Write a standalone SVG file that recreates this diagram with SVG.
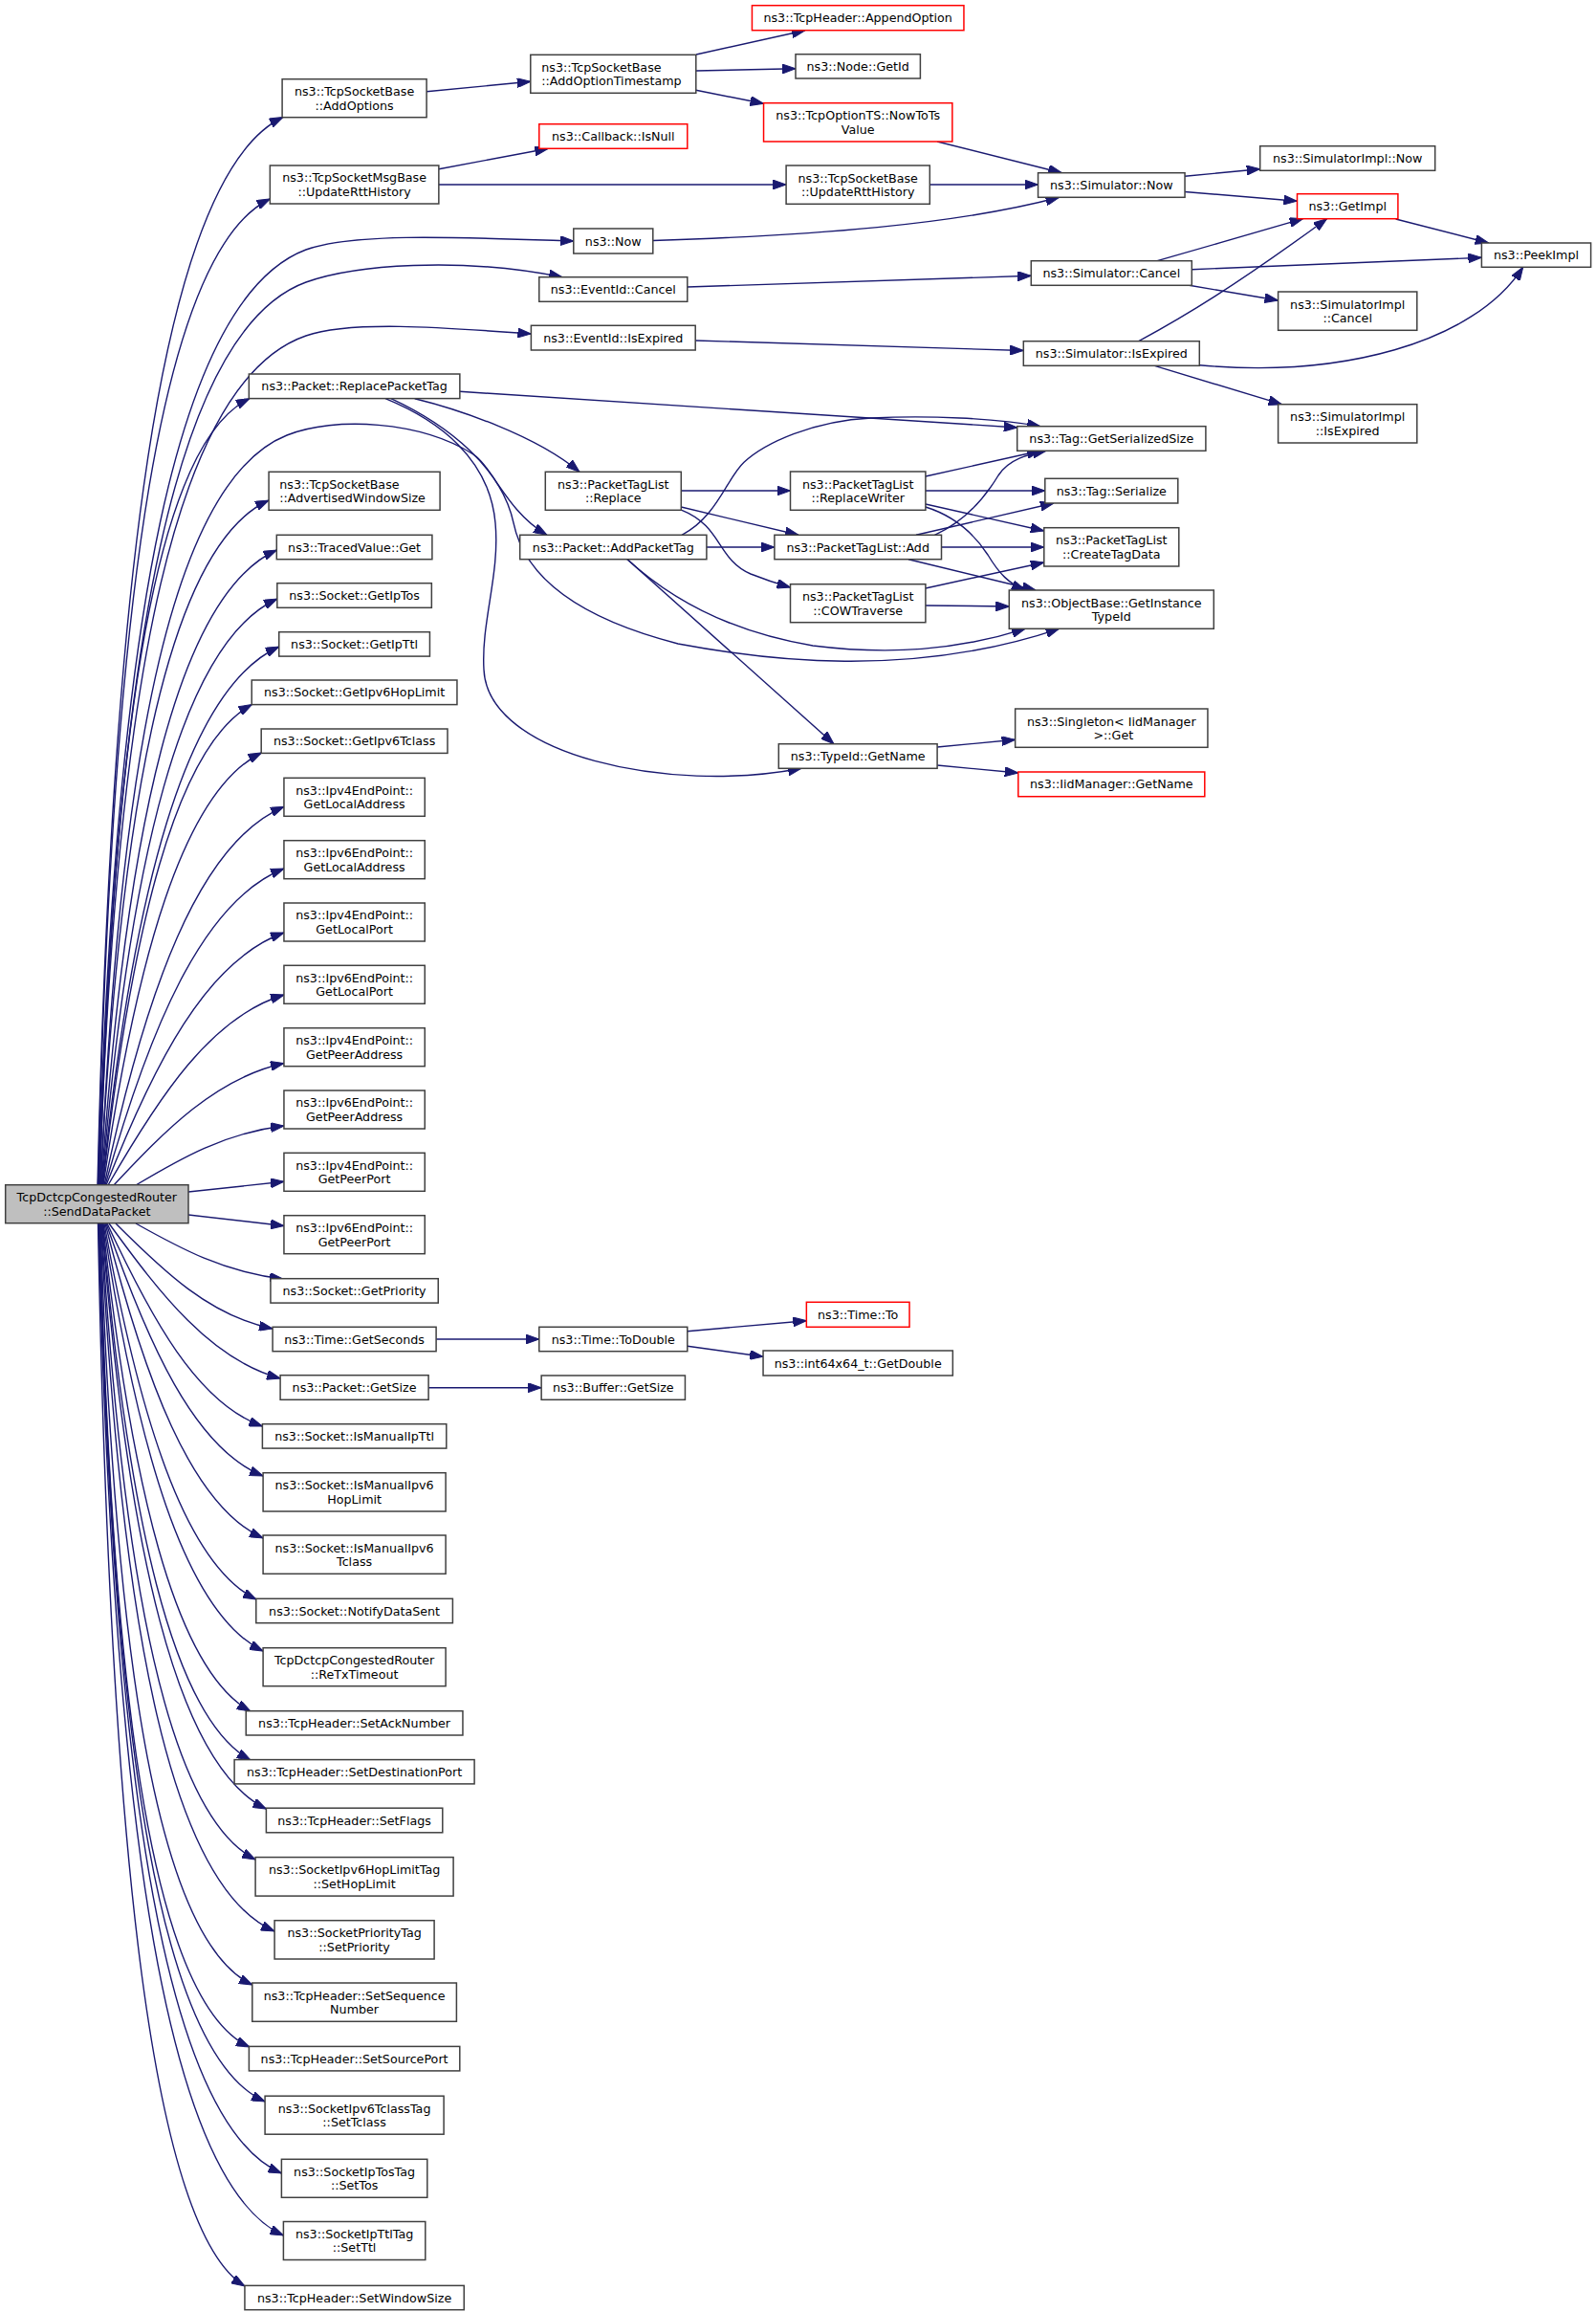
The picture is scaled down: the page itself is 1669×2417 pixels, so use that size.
<svg xmlns="http://www.w3.org/2000/svg" width="1669" height="2417" viewBox="0 0 1669 2417">
<defs>
<style>
.n rect{fill:#fff;stroke:#404040;stroke-width:1.5}
.n.r rect{stroke:#ff0000}
.n.root rect{fill:#bfbfbf}
text{font-family:"DejaVu Sans",sans-serif;font-size:12.7px;fill:#000;text-anchor:middle}
text.l{text-anchor:start}
#edges path{fill:none;stroke:#191970;stroke-width:1.4;marker-end:url(#a)}
</style>
<marker id="a" viewBox="0 0 14 10" markerWidth="14" markerHeight="10" refX="14" refY="5" orient="auto" markerUnits="userSpaceOnUse"><path d="M0,0 L14,5 L0,10 z" fill="#191970" stroke="#191970" stroke-width="1"/></marker>
</defs>
<rect x="0" y="0" width="1669" height="2417" fill="#fff"/>
<g id="edges">
<path d="M142,1239 C188.8,1211.1 235,1184.4 297,1177"/>
<path d="M119,1239 C172.8,1181.7 225.8,1127 297,1111.5"/>
<path d="M113,1239 C165.8,1147.3 220.5,1062.9 297,1040"/>
<path d="M111,1239 C160.5,1113.3 215.7,1003.8 297,975"/>
<path d="M110,1239 C155.8,1076.5 211.4,941.8 297,908"/>
<path d="M109,1239 C151.3,1039.2 206.9,881.3 297,843.3"/>
<path d="M108,1239 C142.2,1004.3 191,827.2 273.5,787"/>
<path d="M107.5,1239 C137.3,973.2 183.5,779.7 263.5,736.5"/>
<path d="M107,1239 C138.8,933.3 193.4,721 291.8,676"/>
<path d="M106.5,1239 C135.3,899.4 189.4,672 289.9,626"/>
<path d="M106,1239 C131.9,863.8 186,621.5 289.4,575"/>
<path d="M105,1239 C126.8,825.9 178.7,569.5 281.1,523"/>
<path d="M104.5,1239 C118.7,744.8 164.8,461.9 261,416.7"/>
<path d="M102.5,1239 C117.3,613.2 170.2,261.6 282.4,208"/>
<path d="M102,1239 C118,560 175,180 296,122.5"/>
<path d="M103,1239 C120.8,645.4 184.6,311.9 320,261 C370,243 480,248 599.8,252"/>
<path d="M103.5,1239 C121.3,666 184.9,344 320,295 C370,277 480,268 588,289.7"/>
<path d="M104,1239 C121.7,700 185.2,397.2 320,351 C366,335 460,342 555.4,349"/>
<path d="M105.5,1239 C125.7,775.7 182.9,501.3 300,455 C350,435 440,440 495,475 C515,488 530,535 572,559.3"/>
<path d="M197,1246 L297,1235.3"/>
<path d="M197,1270 L297,1281.5"/>
<path d="M142,1279 C188.5,1305.1 234.4,1330 296,1337"/>
<path d="M121,1279 C170.5,1328.5 219.4,1375.8 285.1,1389"/>
<path d="M114,1279 C167.3,1352.4 220.7,1421.7 293.1,1441"/>
<path d="M112,1279 C157.8,1377.4 206.1,1466.8 274.4,1491"/>
<path d="M111,1279 C154.6,1404.7 203.3,1514.2 275.1,1543"/>
<path d="M110,1279 C150.6,1440.2 199.6,1574.1 275.1,1608"/>
<path d="M109,1279 C144.9,1477.1 192,1634.3 268,1672"/>
<path d="M108,1279 C142.9,1510.1 192.3,1685.3 275.1,1726"/>
<path d="M107.5,1279 C136.7,1549.8 182.4,1745.6 262,1789"/>
<path d="M107,1279 C133.8,1583.1 179.7,1795.1 262,1840"/>
<path d="M106.5,1279 C133.5,1618 184.2,1845.1 278.4,1891"/>
<path d="M106,1279 C128.5,1655.4 176,1897.4 267.1,1944"/>
<path d="M105.5,1279 C126.7,1709.7 180.1,1972.4 287.1,2019"/>
<path d="M105,1279 C120.7,1752.6 167.5,2029.6 264,2075"/>
<path d="M104.5,1279 C117.3,1801.6 163.3,2095.2 261,2140"/>
<path d="M104,1279 C118.2,1836.2 169,2149.3 277.1,2197"/>
<path d="M103.5,1279 C119.1,1881.8 175.2,2220.4 294.4,2272"/>
<path d="M103,1279 C118.9,1921.2 175.7,2282 296.4,2337"/>
<path d="M102.5,1279 C115.3,1953.4 161,2332.2 256,2390"/>
<path d="M446,95.7 L554.8,85.3"/>
<path d="M728,57 L842,31.7"/>
<path d="M727.8,74 L832,71.7"/>
<path d="M727.8,94.3 L798.5,108.2"/>
<path d="M980,148 L1110.4,180.7"/>
<path d="M459,176.7 L573.4,155.3"/>
<path d="M458.9,193 L822.1,193"/>
<path d="M972.3,193 L1085.5,193"/>
<path d="M682.8,251.5 C850,246 1000,235 1107.6,206.3"/>
<path d="M1239,184.3 L1317.7,176.7"/>
<path d="M1239,200.5 L1356.5,210.2"/>
<path d="M1210.2,272.7 L1362.6,228.7"/>
<path d="M1246.3,281.7 L1549.4,269.3"/>
<path d="M1243.5,298.3 L1336.6,314"/>
<path d="M1190.8,356.7 C1240,330 1290,300 1387.6,228.7"/>
<path d="M1254.3,381.7 C1400,395 1540,360 1592.7,279.3"/>
<path d="M1207.4,382.3 L1340.5,422.7"/>
<path d="M1459.6,229 L1556.7,254"/>
<path d="M718.8,300 L1078.3,288.3"/>
<path d="M727.2,356 L1070.3,366.5"/>
<path d="M480.8,409.3 L1063.7,447"/>
<path d="M433.7,416.7 C480,428 560,455 606,493.3"/>
<path d="M403,416.7 C460,440 512,480 518,546.7 C523,600 503,650 506,700 C510,790 700,830 838,803.3"/>
<path d="M408.8,416.7 C470,445 525,490 537,546.7 C548,600 600,645 709,673 C800,690 950,710 1107.6,657.3"/>
<path d="M738.9,572 L809.9,572"/>
<path d="M713,559.3 C750,540 760,500 778,483.3 C800,463 850,440 911,437 C970,434 1040,437 1088,445.7"/>
<path d="M712.3,513 L826.5,513"/>
<path d="M712.3,530 L835,559.3"/>
<path d="M713,533.3 C755,550 750,585 785,600 C800,606 812,610 826.5,614"/>
<path d="M967.9,498 L1088,471.3"/>
<path d="M967.9,513 L1092.8,513"/>
<path d="M967.9,527 L1091.8,555"/>
<path d="M967.9,530 C1000,540 1020,560 1033,580 C1045,600 1055,610 1072,617"/>
<path d="M977.4,559.3 C1010,545 1030,520 1044,497 C1055,480 1075,475 1094,471.3"/>
<path d="M958,559.3 L1102,526"/>
<path d="M984.5,572 L1091.8,572"/>
<path d="M950,584.7 L1083,617"/>
<path d="M967.9,615 L1091.8,588"/>
<path d="M967.9,633 L1055.3,634"/>
<path d="M656,584.7 C700,625 760,660 850,675 C930,685 1000,680 1072,657.3"/>
<path d="M656,584.7 L872,777.7"/>
<path d="M980.1,781 L1061.6,773.3"/>
<path d="M980.1,800 L1064.8,808"/>
<path d="M456.1,1400 L563.8,1400"/>
<path d="M718.8,1391.7 L843.3,1380.7"/>
<path d="M718.8,1407.3 L798,1418.3"/>
<path d="M448.1,1450.7 L566.1,1450.7"/>
</g>
<g id="n_root" class="n root"><rect x="5.7" y="1238.7" width="191.3" height="40"/><text x="101.3" y="1256.1">TcpDctcpCongestedRouter</text><text x="101.3" y="1270.5">::SendDataPacket</text></g>
<g id="n_addoptions" class="n"><rect x="295.1" y="82.7" width="151" height="40"/><text x="370.6" y="100.1">ns3::TcpSocketBase</text><text x="370.6" y="114.5">::AddOptions</text></g>
<g id="n_msgbase_updatertt" class="n"><rect x="282.35" y="173" width="176.5" height="40"/><text x="370.6" y="190.4">ns3::TcpSocketMsgBase</text><text x="370.6" y="204.8">::UpdateRttHistory</text></g>
<g id="n_replacepackettag" class="n"><rect x="260.35" y="391" width="220.5" height="25.6"/><text x="370.6" y="408.4">ns3::Packet::ReplacePacketTag</text></g>
<g id="n_advwindow" class="n"><rect x="281.1" y="493.3" width="179" height="40"/><text class="l" x="292.3" y="510.7">ns3::TcpSocketBase</text><text class="l" x="292.3" y="525.1">::AdvertisedWindowSize</text></g>
<g id="n_tracedvalue" class="n"><rect x="289.3" y="559.3" width="162.6" height="25.4"/><text x="370.6" y="576.6">ns3::TracedValue::Get</text></g>
<g id="n_getiptos" class="n"><rect x="289.85" y="609.7" width="161.5" height="25.6"/><text x="370.6" y="627.1">ns3::Socket::GetIpTos</text></g>
<g id="n_getipttl" class="n"><rect x="291.75" y="660.7" width="157.7" height="25.4"/><text x="370.6" y="678">ns3::Socket::GetIpTtl</text></g>
<g id="n_getipv6hoplimit" class="n"><rect x="263.25" y="711" width="214.7" height="25.6"/><text x="370.6" y="728.4">ns3::Socket::GetIpv6HopLimit</text></g>
<g id="n_getipv6tclass" class="n"><rect x="273.2" y="762" width="194.8" height="25.4"/><text x="370.6" y="779.3">ns3::Socket::GetIpv6Tclass</text></g>
<g id="n_ipv4_gla" class="n"><rect x="296.95" y="813.3" width="147.3" height="40"/><text x="370.6" y="830.7">ns3::Ipv4EndPoint::</text><text x="370.6" y="845.1">GetLocalAddress</text></g>
<g id="n_ipv6_gla" class="n"><rect x="296.95" y="878.7" width="147.3" height="40"/><text x="370.6" y="896.1">ns3::Ipv6EndPoint::</text><text x="370.6" y="910.5">GetLocalAddress</text></g>
<g id="n_ipv4_glp" class="n"><rect x="296.95" y="944" width="147.3" height="40"/><text x="370.6" y="961.4">ns3::Ipv4EndPoint::</text><text x="370.6" y="975.8">GetLocalPort</text></g>
<g id="n_ipv6_glp" class="n"><rect x="296.95" y="1009.3" width="147.3" height="40"/><text x="370.6" y="1026.7">ns3::Ipv6EndPoint::</text><text x="370.6" y="1041.1">GetLocalPort</text></g>
<g id="n_ipv4_gpa" class="n"><rect x="296.95" y="1074.7" width="147.3" height="40"/><text x="370.6" y="1092.1">ns3::Ipv4EndPoint::</text><text x="370.6" y="1106.5">GetPeerAddress</text></g>
<g id="n_ipv6_gpa" class="n"><rect x="296.95" y="1140" width="147.3" height="40"/><text x="370.6" y="1157.4">ns3::Ipv6EndPoint::</text><text x="370.6" y="1171.8">GetPeerAddress</text></g>
<g id="n_ipv4_gpp" class="n"><rect x="296.95" y="1205.3" width="147.3" height="40"/><text x="370.6" y="1222.7">ns3::Ipv4EndPoint::</text><text x="370.6" y="1237.1">GetPeerPort</text></g>
<g id="n_ipv6_gpp" class="n"><rect x="296.95" y="1270.7" width="147.3" height="40"/><text x="370.6" y="1288.1">ns3::Ipv6EndPoint::</text><text x="370.6" y="1302.5">GetPeerPort</text></g>
<g id="n_getpriority" class="n"><rect x="282.95" y="1336.7" width="175.3" height="25.4"/><text x="370.6" y="1354">ns3::Socket::GetPriority</text></g>
<g id="n_getseconds" class="n"><rect x="285.1" y="1387.3" width="171" height="25.4"/><text x="370.6" y="1404.6">ns3::Time::GetSeconds</text></g>
<g id="n_packet_getsize" class="n"><rect x="293.1" y="1437.7" width="155" height="25.6"/><text x="370.6" y="1455.1">ns3::Packet::GetSize</text></g>
<g id="n_ismanualipttl" class="n"><rect x="274.4" y="1488.7" width="192.4" height="25.4"/><text x="370.6" y="1506">ns3::Socket::IsManualIpTtl</text></g>
<g id="n_ismanualipv6hop" class="n"><rect x="275.1" y="1539.7" width="191" height="40.3"/><text x="370.6" y="1557.25">ns3::Socket::IsManualIpv6</text><text x="370.6" y="1571.65">HopLimit</text></g>
<g id="n_ismanualipv6tclass" class="n"><rect x="275.1" y="1605" width="191" height="40.3"/><text x="370.6" y="1622.55">ns3::Socket::IsManualIpv6</text><text x="370.6" y="1636.95">Tclass</text></g>
<g id="n_notifydatasent" class="n"><rect x="267.8" y="1671.3" width="205.6" height="25.4"/><text x="370.6" y="1688.6">ns3::Socket::NotifyDataSent</text></g>
<g id="n_retxtimeout" class="n"><rect x="275.1" y="1722.7" width="191" height="40"/><text x="370.6" y="1740.1">TcpDctcpCongestedRouter</text><text x="370.6" y="1754.5">::ReTxTimeout</text></g>
<g id="n_setacknumber" class="n"><rect x="257.25" y="1788.7" width="226.7" height="25.3"/><text x="370.6" y="1805.95">ns3::TcpHeader::SetAckNumber</text></g>
<g id="n_setdestport" class="n"><rect x="245.1" y="1839.6" width="251" height="25.3"/><text x="370.6" y="1856.85">ns3::TcpHeader::SetDestinationPort</text></g>
<g id="n_setflags" class="n"><rect x="278.4" y="1890.2" width="184.4" height="25.6"/><text x="370.6" y="1907.6">ns3::TcpHeader::SetFlags</text></g>
<g id="n_sethoplimit" class="n"><rect x="267.1" y="1941.6" width="207" height="40.5"/><text x="370.6" y="1959.25">ns3::SocketIpv6HopLimitTag</text><text x="370.6" y="1973.65">::SetHopLimit</text></g>
<g id="n_setpriority" class="n"><rect x="287.1" y="2007.7" width="167" height="40.3"/><text x="370.6" y="2025.25">ns3::SocketPriorityTag</text><text x="370.6" y="2039.65">::SetPriority</text></g>
<g id="n_setsequence" class="n"><rect x="263.8" y="2073" width="213.6" height="40.3"/><text x="370.6" y="2090.55">ns3::TcpHeader::SetSequence</text><text x="370.6" y="2104.95">Number</text></g>
<g id="n_setsourceport" class="n"><rect x="260.4" y="2139.4" width="220.4" height="25.5"/><text x="370.6" y="2156.75">ns3::TcpHeader::SetSourcePort</text></g>
<g id="n_settclass" class="n"><rect x="277.1" y="2191.2" width="187" height="40"/><text x="370.6" y="2208.6">ns3::SocketIpv6TclassTag</text><text x="370.6" y="2223">::SetTclass</text></g>
<g id="n_settos" class="n"><rect x="294.4" y="2257.3" width="152.4" height="40"/><text x="370.6" y="2274.7">ns3::SocketIpTosTag</text><text x="370.6" y="2289.1">::SetTos</text></g>
<g id="n_setttl" class="n"><rect x="296.4" y="2322.5" width="148.4" height="40"/><text x="370.6" y="2339.9">ns3::SocketIpTtlTag</text><text x="370.6" y="2354.3">::SetTtl</text></g>
<g id="n_setwindowsize" class="n"><rect x="255.95" y="2389.4" width="229.3" height="25.3"/><text x="370.6" y="2406.65">ns3::TcpHeader::SetWindowSize</text></g>
<g id="n_addoptiontimestamp" class="n"><rect x="554.8" y="57.3" width="173" height="40"/><text class="l" x="566.3" y="74.7">ns3::TcpSocketBase</text><text class="l" x="566.3" y="89.1">::AddOptionTimestamp</text></g>
<g id="n_callback_isnull" class="n r"><rect x="563.8" y="129.7" width="155" height="25.6"/><text x="641.3" y="147.1">ns3::Callback::IsNull</text></g>
<g id="n_now" class="n"><rect x="599.8" y="239" width="83" height="26"/><text x="641.3" y="256.6">ns3::Now</text></g>
<g id="n_eventid_cancel" class="n"><rect x="563.8" y="289.7" width="155" height="25.6"/><text x="641.3" y="307.1">ns3::EventId::Cancel</text></g>
<g id="n_eventid_isexpired" class="n"><rect x="555.4" y="340.3" width="171.8" height="25.7"/><text x="641.3" y="357.75">ns3::EventId::IsExpired</text></g>
<g id="n_ptl_replace" class="n"><rect x="570.3" y="493.3" width="142" height="40"/><text x="641.3" y="510.7">ns3::PacketTagList</text><text x="641.3" y="525.1">::Replace</text></g>
<g id="n_addpackettag" class="n"><rect x="543.7" y="559.3" width="195.2" height="25.4"/><text x="641.3" y="576.6">ns3::Packet::AddPacketTag</text></g>
<g id="n_todouble" class="n"><rect x="563.8" y="1387.3" width="155" height="25.4"/><text x="641.3" y="1404.6">ns3::Time::ToDouble</text></g>
<g id="n_buffer_getsize" class="n"><rect x="566.15" y="1438" width="150.3" height="25.3"/><text x="641.3" y="1455.25">ns3::Buffer::GetSize</text></g>
<g id="n_appendoption" class="n r"><rect x="786.45" y="5.7" width="221.5" height="26"/><text x="897.2" y="23.3">ns3::TcpHeader::AppendOption</text></g>
<g id="n_node_getid" class="n"><rect x="832" y="56.7" width="130.4" height="25.3"/><text x="897.2" y="73.95">ns3::Node::GetId</text></g>
<g id="n_nowtotsvalue" class="n r"><rect x="798.55" y="107.7" width="197.3" height="40.3"/><text x="897.2" y="125.25">ns3::TcpOptionTS::NowToTs</text><text x="897.2" y="139.65">Value</text></g>
<g id="n_tsb_updatertt" class="n"><rect x="822.1" y="173" width="150.2" height="40.3"/><text x="897.2" y="190.55">ns3::TcpSocketBase</text><text x="897.2" y="204.95">::UpdateRttHistory</text></g>
<g id="n_replacewriter" class="n"><rect x="826.5" y="493" width="141.4" height="40.3"/><text x="897.2" y="510.55">ns3::PacketTagList</text><text x="897.2" y="524.95">::ReplaceWriter</text></g>
<g id="n_ptl_add" class="n"><rect x="809.9" y="559.3" width="174.6" height="25.4"/><text x="897.2" y="576.6">ns3::PacketTagList::Add</text></g>
<g id="n_cowtraverse" class="n"><rect x="826.5" y="610.7" width="141.4" height="40"/><text x="897.2" y="628.1">ns3::PacketTagList</text><text x="897.2" y="642.5">::COWTraverse</text></g>
<g id="n_typeid_getname" class="n"><rect x="814.3" y="777.7" width="165.8" height="25.6"/><text x="897.2" y="795.1">ns3::TypeId::GetName</text></g>
<g id="n_time_to" class="n r"><rect x="843.35" y="1361.3" width="107.7" height="26"/><text x="897.2" y="1378.9">ns3::Time::To</text></g>
<g id="n_getdouble" class="n"><rect x="798.05" y="1412" width="198.3" height="26"/><text x="897.2" y="1429.6">ns3::int64x64_t::GetDouble</text></g>
<g id="n_simulator_now" class="n"><rect x="1085.55" y="180.7" width="153.5" height="25.6"/><text x="1162.3" y="198.1">ns3::Simulator::Now</text></g>
<g id="n_simulator_cancel" class="n"><rect x="1078.3" y="272.7" width="168" height="25.6"/><text x="1162.3" y="290.1">ns3::Simulator::Cancel</text></g>
<g id="n_simulator_isexpired" class="n"><rect x="1070.3" y="356.7" width="184" height="25.6"/><text x="1162.3" y="374.1">ns3::Simulator::IsExpired</text></g>
<g id="n_tag_getserializedsize" class="n"><rect x="1063.7" y="445.7" width="197.2" height="25.6"/><text x="1162.3" y="463.1">ns3::Tag::GetSerializedSize</text></g>
<g id="n_tag_serialize" class="n"><rect x="1092.8" y="500.3" width="139" height="25.7"/><text x="1162.3" y="517.75">ns3::Tag::Serialize</text></g>
<g id="n_createtagdata" class="n"><rect x="1091.8" y="551.7" width="141" height="40.3"/><text x="1162.3" y="569.25">ns3::PacketTagList</text><text x="1162.3" y="583.65">::CreateTagData</text></g>
<g id="n_getinstancetypeid" class="n"><rect x="1055.3" y="617" width="214" height="40.3"/><text x="1162.3" y="634.55">ns3::ObjectBase::GetInstance</text><text x="1162.3" y="648.95">TypeId</text></g>
<g id="n_singleton_get" class="n"><rect x="1061.65" y="741" width="201.3" height="40.3"/><text x="1162.3" y="758.55">ns3::Singleton&lt; IidManager</text><text x="1164.3" y="772.95">&gt;::Get</text></g>
<g id="n_iidmanager_getname" class="n r"><rect x="1064.8" y="807" width="195" height="25.7"/><text x="1162.3" y="824.45">ns3::IidManager::GetName</text></g>
<g id="n_simimpl_now" class="n"><rect x="1317.7" y="152.7" width="183" height="25.6"/><text x="1409.2" y="170.1">ns3::SimulatorImpl::Now</text></g>
<g id="n_getimpl" class="n r"><rect x="1356.5" y="202.7" width="105.4" height="26"/><text x="1409.2" y="220.3">ns3::GetImpl</text></g>
<g id="n_simimpl_cancel" class="n"><rect x="1336.6" y="305" width="145.2" height="40.3"/><text x="1409.2" y="322.55">ns3::SimulatorImpl</text><text x="1409.2" y="336.95">::Cancel</text></g>
<g id="n_simimpl_isexpired" class="n"><rect x="1336.6" y="422.7" width="145.2" height="40.3"/><text x="1409.2" y="440.25">ns3::SimulatorImpl</text><text x="1409.2" y="454.65">::IsExpired</text></g>
<g id="n_peekimpl" class="n"><rect x="1549.4" y="254" width="114.2" height="25.3"/><text x="1606.5" y="271.25">ns3::PeekImpl</text></g>
</svg>
